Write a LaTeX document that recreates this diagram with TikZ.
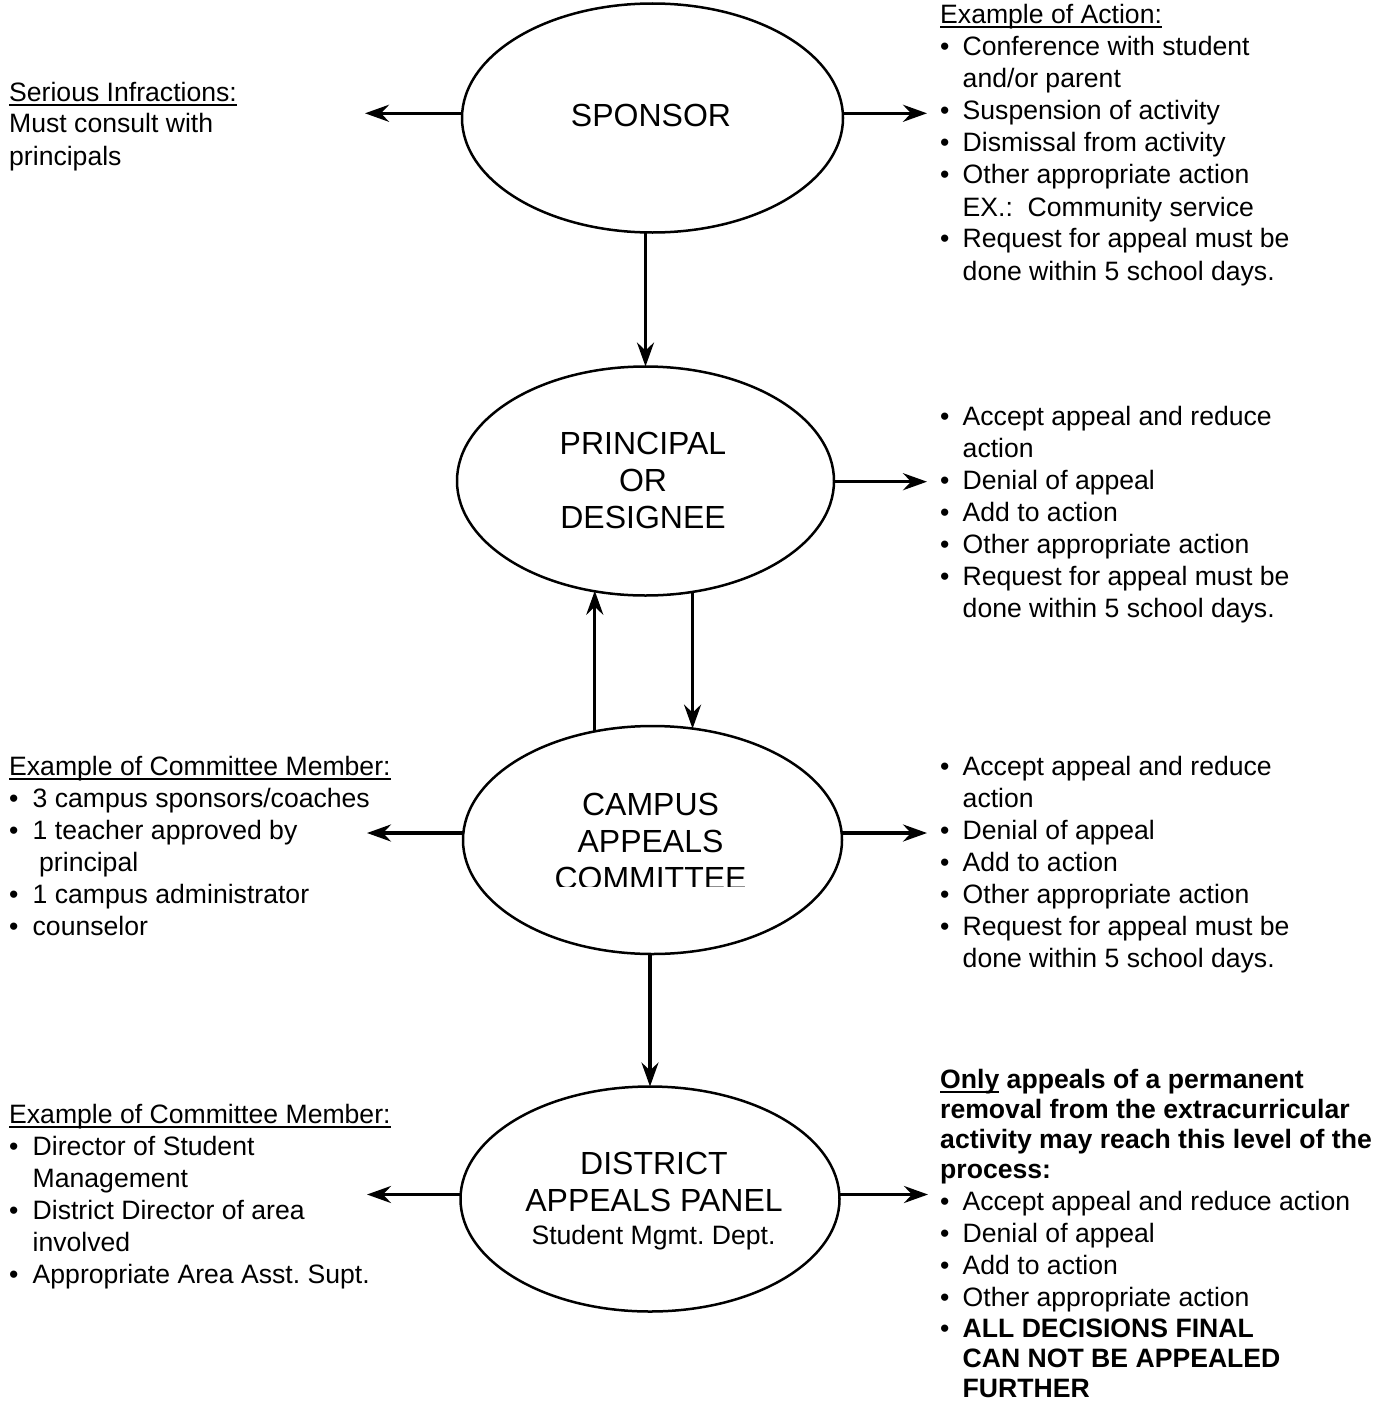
\documentclass[tikz,border=0pt]{standalone}
\usepackage{fontspec}
\setmainfont{Liberation Sans}
\usetikzlibrary{arrows.meta,shapes.geometric}
\frenchspacing
\newcommand\myul[1]{\leavevmode\setbox0\hbox{#1}\rlap{\rule[-4.5pt]{\wd0}{2pt}}\box0{}}
\newcommand\mybul[1][22.5pt]{\makebox[#1][l]{\textbullet}}
\begin{document}
\begin{tikzpicture}[x=1pt,y=-1pt,
  ell/.style={draw, line width=2.5pt, ellipse, inner sep=0pt, outer sep=0pt},
  arr/.style={line width=3.4pt, -{Stealth[length=24pt,width=17pt,inset=8pt]}},
  body/.style={inner sep=0pt, anchor=base west, font=\fontsize{26.6}{32}\selectfont\frenchspacing},
  etxt/.style={inner sep=0pt, anchor=base, font=\fontsize{32}{37}\selectfont},
  small/.style={inner sep=0pt, anchor=base, font=\fontsize{26.6}{32}\selectfont\frenchspacing}]
\useasboundingbox[fill=white] (0,0) rectangle (1392,1405);

% ellipses
\node[ell, minimum width=381pt, minimum height=229pt] (sp) at (652.5,118) {};
\node[ell, minimum width=377pt, minimum height=229pt] (pr) at (645.5,481) {};
\node[ell, minimum width=379pt, minimum height=228pt] (ca) at (652.5,840) {};
\node[ell, minimum width=379pt, minimum height=225pt] (di) at (650,1199) {};

% ellipse texts
\node[etxt] (sptx) at (651,126.5) {SPONSOR};
\node[etxt] (prtx) at (643,454.5) {\begin{tabular}[t]{@{}c@{}}PRINCIPAL\\OR\\DESIGNEE\end{tabular}};
\begin{scope}
\clip (500,770) rectangle (800,886.7);
\node[etxt] (catx) at (650.5,815) {\begin{tabular}[t]{@{}c@{}}CAMPUS\\APPEALS\\COMMITTEE\end{tabular}};
\end{scope}
\node[etxt] (ditx) at (654,1174.5) {\begin{tabular}[t]{@{}c@{}}DISTRICT\\APPEALS PANEL\end{tabular}};
\node[small] (ditx2) at (653.5,1244) {Student Mgmt. Dept.};

% arrow free ends
\coordinate (spL) at (365,113.3);
\coordinate (spR) at (927,113.3);
\coordinate (prR) at (927,481.7);
\coordinate (caL) at (367,833);
\coordinate (caR) at (927,833);
\coordinate (diL) at (367,1194.5);
\coordinate (diR) at (928,1194.5);

% arrows
\draw[arr] (sp.west |- spL) -- (spL);
\draw[arr] (sp.east |- spR) -- (spR);
\draw[arr] (sp.south -| pr.north) -- (pr.north);
\draw[arr] (pr.east |- prR) -- (prR);
\draw[arr] (ca.118.81) -- (ca.118.81 |- pr.244.49);
\draw[arr] (pr.293.21) -- (pr.293.21 |- ca.70.01);
\draw[arr] (ca.west |- caL) -- (caL);
\draw[arr] (ca.east |- caR) -- (caR);
\draw[arr] (ca.south -| di.north) -- (di.north);
\draw[arr] (di.west |- diL) -- (diL);
\draw[arr] (di.east |- diR) -- (diR);

% text blocks
\node[body] (tl) at (9,101) {\begin{tabular}[t]{@{}l@{}}
\myul{Serious Infractions:}\\
Must consult with\\
principals
\end{tabular}};

\node[body] (tr) at (940,24) {\begin{tabular}[t]{@{}l@{}}
\myul{Example of Action:}\\
\mybul Conference with student\\
\hspace*{22.5pt}and/or parent\\
\mybul Suspension of activity\\
\mybul Dismissal from activity\\
\mybul Other appropriate action\\
\hspace*{22.5pt}EX.:\ \ Community service\\
\mybul Request for appeal must be\\
\hspace*{22.5pt}done within 5 school days.
\end{tabular}};

\node[body] (prtext) at (940,425) {\begin{tabular}[t]{@{}l@{}}
\mybul Accept appeal and reduce\\
\hspace*{22.5pt}action\\
\mybul Denial of appeal\\
\mybul Add to action\\
\mybul Other appropriate action\\
\mybul Request for appeal must be\\
\hspace*{22.5pt}done within 5 school days.
\end{tabular}};

\node[body] (catextR) at (940,775) {\begin{tabular}[t]{@{}l@{}}
\mybul Accept appeal and reduce\\
\hspace*{22.5pt}action\\
\mybul Denial of appeal\\
\mybul Add to action\\
\mybul Other appropriate action\\
\mybul Request for appeal must be\\
\hspace*{22.5pt}done within 5 school days.
\end{tabular}};

\node[body] (catextL) at (9,775) {\begin{tabular}[t]{@{}l@{}}
\myul{Example of Committee Member:}\\
\mybul[23.5pt]3 campus sponsors/coaches\\
\mybul[23.5pt]1 teacher approved by\\
\hspace*{30pt}principal\\
\mybul[23.5pt]1 campus administrator\\
\mybul[23.5pt]counselor
\end{tabular}};

\node[body] (ditextL) at (9,1123) {\begin{tabular}[t]{@{}l@{}}
\myul{Example of Committee Member:}\\
\mybul[23.5pt]Director of Student\\
\hspace*{23.5pt}Management\\
\mybul[23.5pt]District Director of area\\
\hspace*{23.5pt}involved\\
\mybul[23.5pt]Appropriate Area Asst. Supt.
\end{tabular}};

\node[body] (ditextR) at (940,1088) {\begin{tabular}[t]{@{}l@{}}
\textbf{\myul{Only} appeals of a permanent}\\[-2pt]
\textbf{removal from the extracurricular}\\[-2pt]
\textbf{activity may reach this level of the}\\[-2pt]
\textbf{process:}\\
\mybul Accept appeal and reduce action\\
\mybul Denial of appeal\\
\mybul Add to action\\
\mybul Other appropriate action\\[-1pt]
\mybul \textbf{ALL DECISIONS FINAL}\\[-2pt]
\hspace*{22.5pt}\textbf{CAN NOT BE APPEALED}\\[-2pt]
\hspace*{22.5pt}\textbf{FURTHER}
\end{tabular}};
\end{tikzpicture}
\end{document}
